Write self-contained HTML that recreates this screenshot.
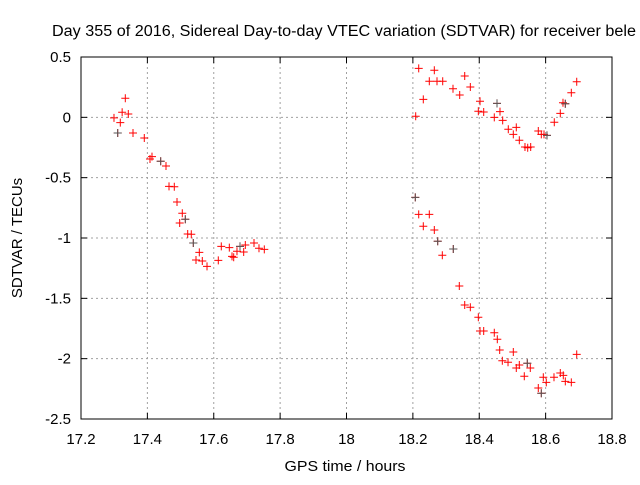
<!DOCTYPE html>
<html><head><meta charset="utf-8"><style>
body{margin:0;background:#fff}
svg text{font-family:"Liberation Sans",sans-serif;font-size:15px;fill:#000}
</style></head><body>
<svg id="chart" width="640" height="480" xmlns="http://www.w3.org/2000/svg">
<text x="52" y="36" style="font-size:15.5px" textLength="584" lengthAdjust="spacingAndGlyphs">Day 355 of 2016, Sidereal Day-to-day VTEC variation (SDTVAR) for receiver bele</text>
<text x="345" y="471" text-anchor="middle" textLength="121" lengthAdjust="spacingAndGlyphs">GPS time / hours</text>
<text transform="translate(22,238) rotate(-90)" text-anchor="middle">SDTVAR / TECUs</text>
<g id="grid"></g><g id="ticks"></g><g id="marks"></g>
<rect x="81" y="57" width="531" height="362" fill="none" stroke="#000" stroke-width="1"/>
</svg>
<script>
const xTicks=[17.2,17.4,17.6,17.8,18,18.2,18.4,18.6,18.8];
const xTickLabels=["17.2","17.4","17.6","17.8","18","18.2","18.4","18.6","18.8"];
const yTicks=[0.5,0,-0.5,-1,-1.5,-2,-2.5];
const yTickLabels=["0.5","0","-0.5","-1","-1.5","-2","-2.5"];
const redX=[17.3335,17.324,17.3425,17.2994,17.3184,17.3106,17.3567,17.3907,17.4079,17.4139,17.4401,17.4561,17.4652,17.4811,17.4893,17.5052,17.5143,17.4974,17.5215,17.5323,17.5384,17.5565,17.5465,17.5655,17.5797,17.6137,17.6227,17.6469,17.655,17.6601,17.67,17.6791,17.6902,17.6951,17.7213,17.7363,17.7523,
18.2176,18.2085,18.2314,18.2495,18.2646,18.2727,18.2899,18.3209,18.3411,18.3562,18.3731,18.4023,18.3972,18.4134,18.4535,18.4625,18.4453,18.4706,18.4875,18.5116,18.5026,18.5207,18.5378,18.546,18.555,18.5779,18.587,18.5951,18.6041,18.6261,18.6442,18.6523,18.6593,18.6774,18.6937,
18.2073,18.2176,18.2495,18.2314,18.2646,18.2748,18.2887,18.3218,18.3399,18.3562,18.3731,18.3972,18.4023,18.4134,18.4453,18.4544,18.4616,18.5026,18.4695,18.4867,18.5207,18.5116,18.5448,18.5538,18.5357,18.6937,18.593,18.602,18.6252,18.6442,18.6532,18.6593,18.6774,18.5779,18.587];
const redY=[0.158,0.042,0.028,-0.005,-0.044,-0.13,-0.13,-0.171,-0.345,-0.326,-0.364,-0.403,-0.572,-0.575,-0.702,-0.795,-0.845,-0.876,-0.967,-0.969,-1.041,-1.119,-1.182,-1.191,-1.235,-1.185,-1.069,-1.08,-1.152,-1.16,-1.11,-1.069,-1.116,-1.058,-1.041,-1.085,-1.094,
0.406,0.009,0.149,0.299,0.39,0.299,0.299,0.237,0.185,0.343,0.251,0.133,0.05,0.044,0.116,0.047,0,-0.025,-0.099,-0.083,-0.141,-0.19,-0.246,-0.252,-0.246,-0.113,-0.141,-0.141,-0.149,-0.041,0.033,0.121,0.113,0.204,0.295,
-0.663,-0.804,-0.804,-0.903,-0.934,-1.027,-1.143,-1.091,-1.398,-1.555,-1.574,-1.657,-1.771,-1.771,-1.785,-1.839,-1.928,-1.945,-2.017,-2.03,-2.052,-2.077,-2.038,-2.077,-2.146,-1.964,-2.154,-2.196,-2.154,-2.119,-2.138,-2.188,-2.196,-2.243,-2.287];
const blackX=[17.3106,17.4401,17.5143,17.5384,17.6791,18.2073,18.2748,18.3218,18.4535,18.6041,18.6593,18.587,18.5448];
const blackY=[-0.13,-0.364,-0.845,-1.041,-1.069,-0.663,-1.027,-1.091,0.116,-0.149,0.113,-2.287,-2.038];
const X0=81,X1=612,Y0=419,Y1=57;
function sx(v){return X0+(v-17.2)/1.6*(X1-X0);}
function sy(v){return Y0-(v+2.5)/3*(Y0-Y1);}
const NS="http://www.w3.org/2000/svg";
function mk(t,a,p){const e=document.createElementNS(NS,t);for(const k in a)e.setAttribute(k,a[k]);p.appendChild(e);return e;}
const grid=document.getElementById('grid'),ticks=document.getElementById('ticks'),marks=document.getElementById('marks');
xTicks.forEach((v,i)=>{const x=sx(v);
 if(i>0&&i<xTicks.length-1){const g=mk('line',{x1:x,x2:x,y1:Y1,y2:Y0,stroke:'#a0a0a0','stroke-dasharray':'2,3'},grid);
 
 }
 mk('line',{x1:x,x2:x,y1:Y0,y2:Y0-6,stroke:'#000'},ticks);
 mk('line',{x1:x,x2:x,y1:Y1,y2:Y1+6,stroke:'#000'},ticks);
 const t=mk('text',{x:x,y:444,'text-anchor':'middle'},ticks);t.textContent=xTickLabels[i];
 
 });
yTicks.forEach((v,i)=>{const y=sy(v);
 if(i>0&&i<yTicks.length-1){const g=mk('line',{x1:X0,x2:X1,y1:y,y2:y,stroke:'#a0a0a0','stroke-dasharray':'2,3'},grid);
 
 }
 mk('line',{x1:X0,x2:X0+6,y1:y,y2:y,stroke:'#000'},ticks);
 mk('line',{x1:X1,x2:X1-6,y1:y,y2:y,stroke:'#000'},ticks);
 const t=mk('text',{x:71,y:y+5,'text-anchor':'end'},ticks);t.textContent=yTickLabels[i];
 
 });
function cross(x,y,c,name){const g=mk('path',{d:`M${x-4},${y}h8M${x},${y-4}v8`,stroke:c,'stroke-width':1,fill:'none'},marks);
 
 }
redX.forEach((v,i)=>cross(sx(v),sy(redY[i]),'#ff0000','sdtvar-point'));
blackX.forEach((v,i)=>cross(sx(v),sy(blackY[i]),'#555','sdtvar-reference-point'));
</script>
</body></html>
